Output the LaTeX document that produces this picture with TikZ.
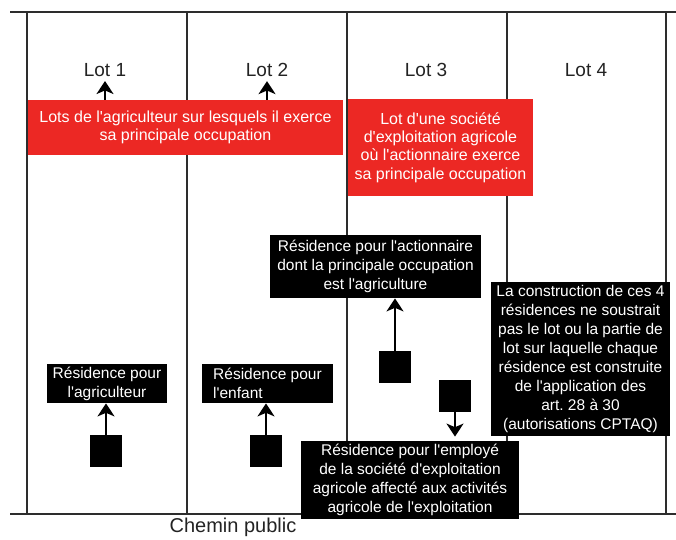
\documentclass[tikz,border=0pt]{standalone}
\usepackage{fontspec}
\setmainfont{Liberation Sans}[Ligatures=TeXOff]
\usetikzlibrary{arrows.meta}
\definecolor{lotRed}{RGB}{236,40,36}
\definecolor{lineGray}{RGB}{45,45,45}
\definecolor{textGray}{RGB}{35,35,35}
\tikzset{
  lot line/.style={draw=lineGray,line width=1pt},
  lot label/.style={text=textGray,font=\fontsize{9.5}{11}\selectfont,inner sep=1pt},
  red box/.style={fill=lotRed,text=white,align=center,inner sep=0pt,font=\fontsize{8}{9.2}\selectfont},
  black box/.style={fill=black,text=white,align=center,inner sep=0pt,font=\fontsize{7.75}{9.5}\selectfont},
  house/.style={fill=black,minimum size=16pt,inner sep=0pt},
  plan arrow/.style={-{Stealth[length=6.5pt,width=8.5pt,inset=1.8pt]},line width=1pt,draw=black}
}
\begin{document}
\begin{tikzpicture}[x=0.5pt,y=-0.5pt]
  \useasboundingbox (0,0) rectangle (676,540);
  % lots and road
  \draw[lot line] (10,12) -- (676,12);
  \draw[lot line] (10,514) -- (676,514);
  \foreach \x in {27,187,347,507,666}
    \draw[lot line] (\x,12) -- (\x,514);
  \node[lot label] (lot1) at (105,70) {Lot 1};
  \node[lot label] (lot2) at (267,70) {Lot 2};
  \node[lot label] (lot3) at (426,70) {Lot 3};
  \node[lot label] (lot4) at (586,70) {Lot 4};
  \node[lot label,font=\fontsize{10}{12}\selectfont] (road) at (233,527) {Chemin public};
  % red notes
  \node[red box,minimum width=157.5pt,minimum height=27.5pt] (farmlots) at (185.5,127.5) {Lots de l'agriculteur sur lesquels il exerce\\sa principale occupation};
  \node[red box,minimum width=92.5pt,minimum height=48.5pt] (companylot) at (440.5,147.5) {Lot d'une société\\d'exploitation agricole\\où l'actionnaire exerce\\sa principale occupation};
  \draw[plan arrow,shorten >=1pt] (lot1 |- farmlots.north) -- (lot1.south);
  \draw[plan arrow,shorten >=1pt] (lot2 |- farmlots.north) -- (lot2.south);
  % residences
  \node[black box,minimum width=60pt,minimum height=19.5pt] (farmer) at (107,383.5) {Résidence pour\\l'agriculteur};
  \node[black box,align=left,minimum width=65.5pt,minimum height=19.5pt] (child) at (267.5,383.5) {Résidence pour\\l'enfant\hphantom{ pour}};
  \node[black box,minimum width=105.5pt,minimum height=31.5pt] (holder) at (375.5,266.5) {Résidence pour l'actionnaire\\dont la principale occupation\\est l'agriculture};
  \node[black box,minimum width=109pt,minimum height=39pt] (employee) at (410,480) {Résidence pour l'employé\\de la société d'exploitation\\agricole affecté aux activités\\agricole de l'exploitation};
  \node[black box,minimum width=89.5pt,minimum height=77pt] (rule) at (580.5,359) {La construction de ces 4\\résidences ne soustrait\\pas le lot ou la partie de\\lot sur laquelle chaque\\résidence est construite\\de l'application des\\art.\ 28 à 30\\(autorisations CPTAQ)};
  \node[house] (house1) at (106,451) {};
  \node[house] (house2) at (266,451) {};
  \node[house] (house3) at (395,367.5) {};
  \node[house] (house4) at (455,396) {};
  \draw[plan arrow] (house1.north) -- (house1.north |- farmer.south);
  \draw[plan arrow] (house2.north) -- (house2.north |- child.south);
  \draw[plan arrow] (house3.north) -- (house3.north |- holder.south);
  \draw[plan arrow,shorten >=2pt] (house4.south) -- (house4.south |- employee.north);
\end{tikzpicture}
\end{document}
